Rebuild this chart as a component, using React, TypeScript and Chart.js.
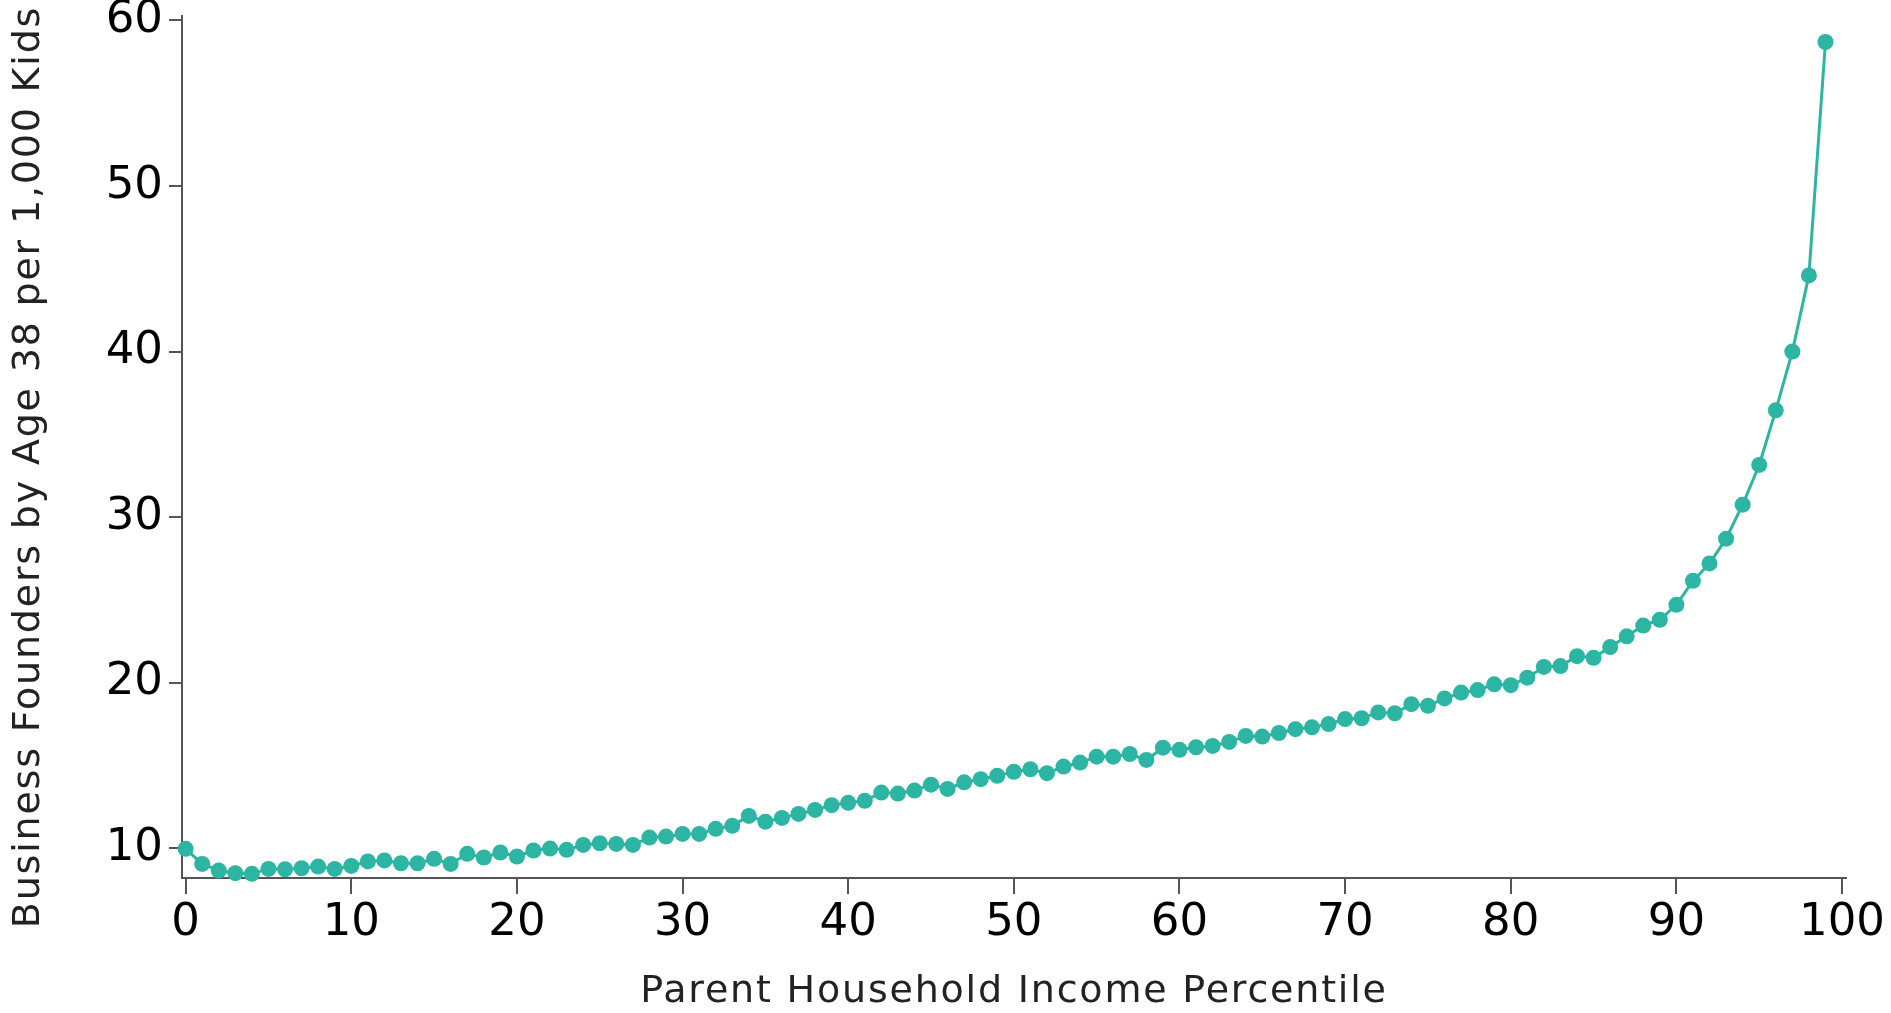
import React, { useEffect, useRef } from "react";
import { Chart, registerables } from "chart.js";

Chart.register(...registerables);

const percentiles = [
  0, 1, 2, 3, 4, 5, 6, 7, 8, 9,
  10, 11, 12, 13, 14, 15, 16, 17, 18, 19,
  20, 21, 22, 23, 24, 25, 26, 27, 28, 29,
  30, 31, 32, 33, 34, 35, 36, 37, 38, 39,
  40, 41, 42, 43, 44, 45, 46, 47, 48, 49,
  50, 51, 52, 53, 54, 55, 56, 57, 58, 59,
  60, 61, 62, 63, 64, 65, 66, 67, 68, 69,
  70, 71, 72, 73, 74, 75, 76, 77, 78, 79,
  80, 81, 82, 83, 84, 85, 86, 87, 88, 89,
  90, 91, 92, 93, 94, 95, 96, 97, 98, 99,
];

const founders = [
  9.96, 9.05, 8.65, 8.49, 8.45, 8.75, 8.73, 8.79, 8.89, 8.75,
  8.93, 9.2, 9.26, 9.09, 9.09, 9.36, 9.05, 9.66, 9.44, 9.74,
  9.5, 9.86, 9.98, 9.9, 10.2, 10.3, 10.26, 10.2, 10.64, 10.7,
  10.86, 10.86, 11.17, 11.35, 11.95, 11.6, 11.83, 12.07, 12.31, 12.6,
  12.74, 12.86, 13.36, 13.3, 13.48, 13.84, 13.58, 13.98, 14.17, 14.37,
  14.62, 14.77, 14.53, 14.93, 15.17, 15.53, 15.53, 15.69, 15.33, 16.07,
  15.94, 16.1, 16.18, 16.42, 16.78, 16.74, 16.96, 17.19, 17.3, 17.5,
  17.8, 17.85, 18.2, 18.15, 18.7, 18.6, 19.05, 19.4, 19.55, 19.9,
  19.85, 20.3, 20.95, 21.0, 21.6, 21.5, 22.15, 22.8, 23.45, 23.8,
  24.7, 26.15, 27.2, 28.7, 30.75, 33.15, 36.45, 40.0, 44.6, 58.7,
];

const xTicks = [0, 10, 20, 30, 40, 50, 60, 70, 80, 90, 100];
const yTicks = [10, 20, 30, 40, 50, 60];

const xTitle = "Parent Household Income Percentile";
const yTitle = "Business Founders by Age 38 per 1,000 Kids";

const W = 1891;
const H = 1013;
const TEAL = "#2bb5a2";
const AXIS = "#555555";
const FONT = "'DejaVu Sans', sans-serif";

const titlePlugin = {
  id: "customTitles",
  afterDraw(chart: any) {
    const ctx = chart.ctx;
    ctx.save();
    ctx.fillStyle = "#222222";
    ctx.font = `38px ${FONT}`;
    (ctx as any).letterSpacing = "1.8px";
    ctx.textAlign = "center";
    ctx.textBaseline = "middle";
    ctx.fillText(xTitle, 1014, 992);
    ctx.translate(29, 467);
    ctx.rotate(-Math.PI / 2);
    ctx.fillText(yTitle, 0, 0);
    ctx.restore();
  },
};

export default function App() {
  const ref = useRef<HTMLCanvasElement | null>(null);

  useEffect(() => {
    document.body.style.margin = "0";
    const canvas = ref.current;
    if (!canvas) return;
    const points = percentiles.map((p, i) => ({ x: p, y: founders[i] }));
    const chart = new Chart(canvas, {
      type: "line",
      data: {
        datasets: [
          {
            data: points,
            borderColor: TEAL,
            backgroundColor: TEAL,
            pointBackgroundColor: TEAL,
            pointBorderColor: TEAL,
            pointRadius: 8,
            pointBorderWidth: 0,
            borderWidth: 3,
            tension: 0,
            clip: false as any,
          },
        ],
      },
      options: {
        responsive: false,
        animation: false,
        devicePixelRatio: 1,
        layout: { padding: { top: 16, right: 45, left: 0, bottom: 0 } },
        plugins: {
          legend: { display: false },
          tooltip: { enabled: false },
          title: { display: false },
        },
        scales: {
          x: {
            type: "linear",
            min: -0.22,
            max: 100.24,
            afterFit: (s: any) => {
              s.height = H - 878;
              s.paddingLeft = 0;
              s.paddingRight = 0;
            },
            afterBuildTicks: (s: any) => {
              s.ticks = xTicks.map((v) => ({ value: v }));
            },
            grid: {
              display: true,
              drawOnChartArea: false,
              drawTicks: true,
              tickLength: 16,
              color: AXIS,
              lineWidth: 2,
            },
            border: { display: true, color: AXIS, width: 2 },
            ticks: {
              color: "#000",
              font: { family: FONT, size: 45, lineHeight: 1.1 },
              padding: 5,
              maxRotation: 0,
              autoSkip: false,
            },
          },
          y: {
            type: "linear",
            min: 8.2,
            max: 60.27,
            afterFit: (s: any) => {
              s.width = 182;
              s.paddingTop = 0;
              s.paddingBottom = 0;
            },
            afterBuildTicks: (s: any) => {
              s.ticks = yTicks.map((v) => ({ value: v }));
            },
            grid: {
              display: true,
              drawOnChartArea: false,
              drawTicks: true,
              tickLength: 13,
              color: AXIS,
              lineWidth: 2,
            },
            border: { display: true, color: AXIS, width: 2 },
            ticks: {
              color: "#000",
              font: { family: FONT, size: 45, lineHeight: 1.1 },
              padding: 6,
              autoSkip: false,
            },
          },
        },
      },
      plugins: [titlePlugin],
    });
    return () => chart.destroy();
  }, []);

  return (
    <div style={{ width: W, height: H }}>
      <canvas ref={ref} width={W} height={H} style={{ display: "block", width: W, height: H }} />
    </div>
  );
}
